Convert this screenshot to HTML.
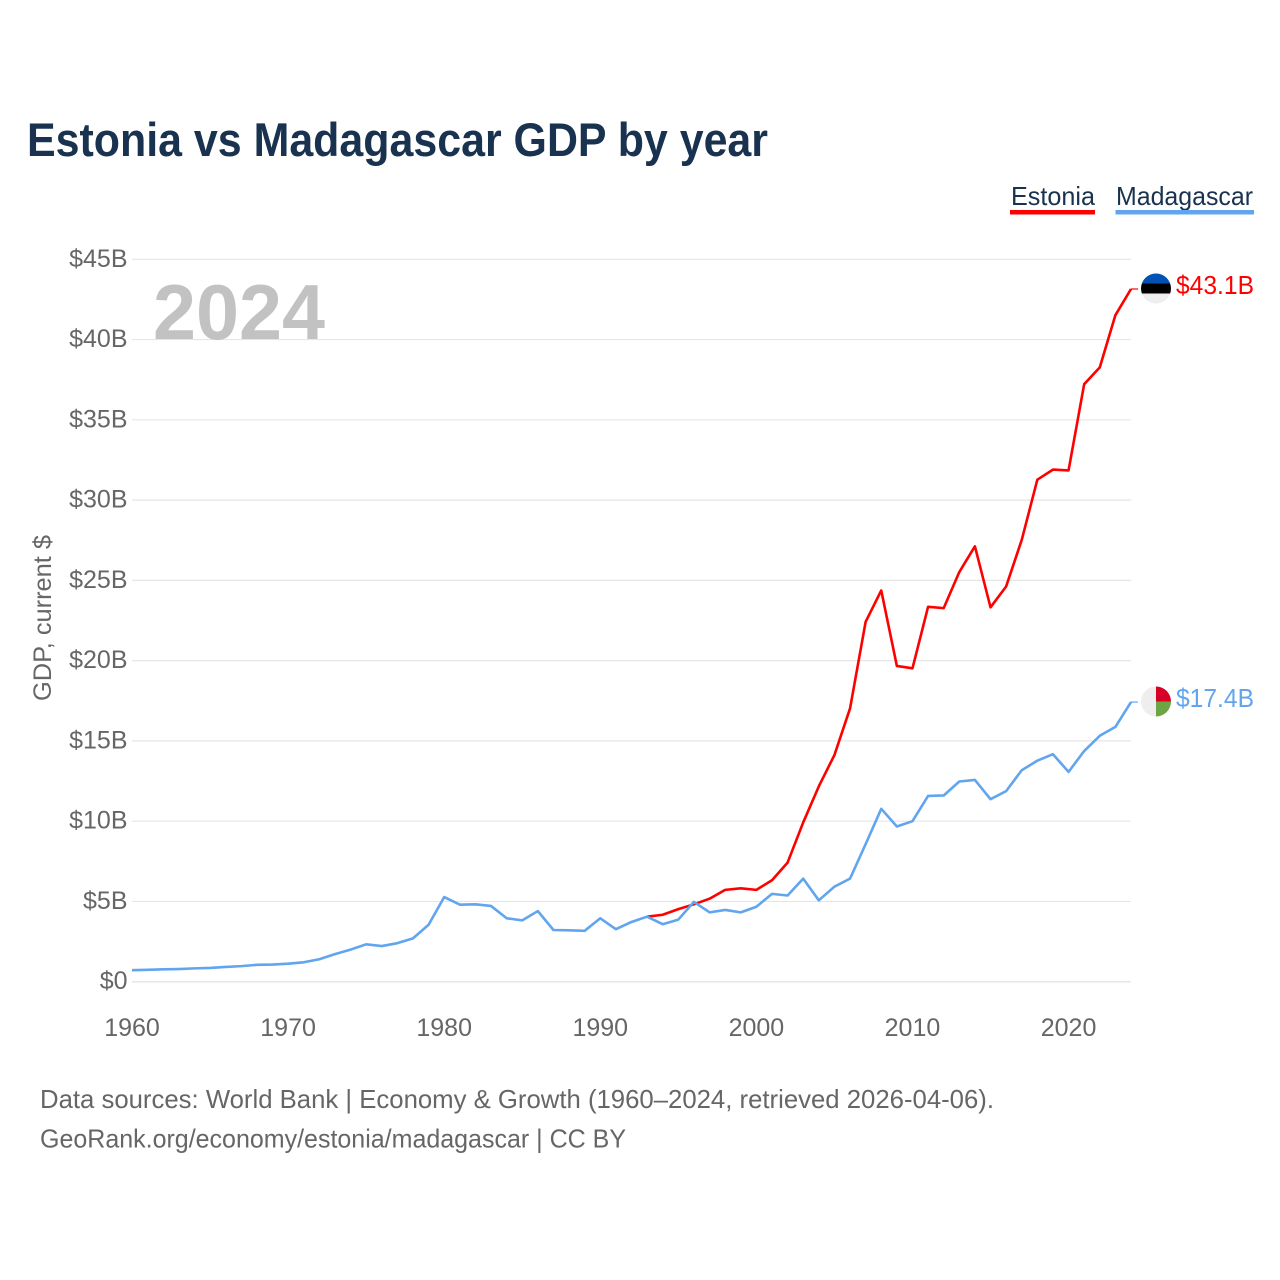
<!DOCTYPE html>
<html lang="en">
<head>
<meta charset="utf-8">
<title>Estonia vs Madagascar GDP by year</title>
<style>
html,body{margin:0;padding:0;background:#fff;}
svg{display:block;}
text{font-family:"Liberation Sans",sans-serif;}
</style>
</head>
<body>
<svg id="chart" xmlns="http://www.w3.org/2000/svg" width="1280" height="1280" viewBox="0 0 1280 1280">
  <rect x="0" y="0" width="1280" height="1280" fill="#ffffff"/>
  <text x="27" y="156" font-size="47" font-weight="700" fill="#18324f" textLength="741" lengthAdjust="spacingAndGlyphs">Estonia vs Madagascar GDP by year</text>

  <text x="1011" y="205" font-size="26" fill="#18324f" textLength="84" lengthAdjust="spacingAndGlyphs">Estonia</text>
  <rect x="1010" y="210" width="85" height="4.5" fill="#ff0000"/>
  <text x="1116" y="205" font-size="26" fill="#18324f" textLength="137" lengthAdjust="spacingAndGlyphs">Madagascar</text>
  <rect x="1115.5" y="210" width="138.5" height="4.5" fill="#60a5ee"/>

  <g id="grid"></g>
  <text x="153" y="339" font-size="78" font-weight="700" fill="#c2c2c2" textLength="172" lengthAdjust="spacingAndGlyphs">2024</text>
  <g id="y-ticks"></g>
  <g id="x-ticks"></g>
  <text transform="translate(51,618) rotate(-90)" text-anchor="middle" font-size="25" fill="#666666" textLength="166" lengthAdjust="spacingAndGlyphs">GDP, current $</text>

  <g id="series"></g>

  <g>
    <clipPath id="clip-ee"><circle cx="1156" cy="288.5" r="15"/></clipPath>
    <g clip-path="url(#clip-ee)">
      <rect x="1141" y="273.5" width="30" height="10" fill="#0052b4"/>
      <rect x="1141" y="283.5" width="30" height="10" fill="#000000"/>
      <rect x="1141" y="293.5" width="30" height="10" fill="#eeeeee"/>
    </g>
    <text x="1176" y="294" font-size="26" fill="#ff0000" textLength="78" lengthAdjust="spacingAndGlyphs">$43.1B</text>
  </g>
  <g>
    <clipPath id="clip-mg"><circle cx="1156" cy="701.5" r="15"/></clipPath>
    <g clip-path="url(#clip-mg)">
      <rect x="1141" y="686.5" width="15" height="30" fill="#eeeeee"/>
      <rect x="1156" y="686.5" width="15" height="15" fill="#d80027"/>
      <rect x="1156" y="701.5" width="15" height="15" fill="#6da544"/>
    </g>
    <text x="1176" y="707" font-size="26" fill="#60a5ee" textLength="78" lengthAdjust="spacingAndGlyphs">$17.4B</text>
  </g>

  <text x="40" y="1108" font-size="26" fill="#666666" textLength="954" lengthAdjust="spacingAndGlyphs">Data sources: World Bank | Economy &amp; Growth (1960–2024, retrieved 2026-04-06).</text>
  <text x="40" y="1147.5" font-size="26" fill="#666666" textLength="586" lengthAdjust="spacingAndGlyphs">GeoRank.org/economy/estonia/madagascar | CC BY</text>
</svg>
<script>
const yTickValues = [0, 5, 10, 15, 20, 25, 30, 35, 40, 45];
const yTickLabels = ["$0", "$5B", "$10B", "$15B", "$20B", "$25B", "$30B", "$35B", "$40B", "$45B"];
const xTickYears = [1960, 1970, 1980, 1990, 2000, 2010, 2020];
const madagascarStartYear = 1960;
const madagascarGdp = [0.72,0.74,0.77,0.79,0.83,0.86,0.92,0.97,1.05,1.07,1.12,1.21,1.40,1.72,2.00,2.33,2.22,2.40,2.70,3.55,5.27,4.80,4.82,4.72,3.95,3.82,4.40,3.22,3.20,3.17,3.95,3.27,3.72,4.05,3.58,3.87,4.97,4.32,4.47,4.32,4.67,5.47,5.37,6.42,5.07,5.92,6.42,8.57,10.77,9.67,10.00,11.57,11.60,12.47,12.57,11.37,11.87,13.17,13.77,14.17,13.07,14.37,15.32,15.87,17.42];
const estoniaStartYear = 1993;
const estoniaGdp = [4.05,4.17,4.52,4.82,5.17,5.72,5.82,5.72,6.32,7.42,9.92,12.17,14.12,17.02,22.42,24.37,19.67,19.52,23.35,23.27,25.52,27.12,23.32,24.62,27.52,31.27,31.90,31.85,37.22,38.27,41.52,43.15];

const NS = "http://www.w3.org/2000/svg";
function xScale(year) { return 132 + (year - 1960) * (1131 - 132) / 64; }
function yScale(value) { return 981.7 - value * (981.7 - 259.3) / 45; }

const grid = document.getElementById("grid");
const yTicks = document.getElementById("y-ticks");
yTickValues.forEach(function (v, i) {
  const line = document.createElementNS(NS, "line");
  
  
  line.setAttribute("x1", xScale(1960));
  line.setAttribute("x2", xScale(2024));
  line.setAttribute("y1", yScale(v));
  line.setAttribute("y2", yScale(v));
  line.setAttribute("stroke", "#e6e6e6");
  line.setAttribute("stroke-width", v === 0 ? "1.5" : "1.2");
  grid.appendChild(line);

  const label = document.createElementNS(NS, "text");
  
  
  label.setAttribute("x", 127.5);
  label.setAttribute("y", yScale(v) + 7.5);
  label.setAttribute("text-anchor", "end");
  label.setAttribute("font-size", "25");
  label.setAttribute("fill", "#666666");
  label.textContent = yTickLabels[i];
  yTicks.appendChild(label);
});

const xTicks = document.getElementById("x-ticks");
xTickYears.forEach(function (yr) {
  const label = document.createElementNS(NS, "text");
  
  
  label.setAttribute("x", xScale(yr));
  label.setAttribute("y", 1036);
  label.setAttribute("text-anchor", "middle");
  label.setAttribute("font-size", "25");
  label.setAttribute("fill", "#666666");
  label.textContent = String(yr);
  xTicks.appendChild(label);
});

function seriesPoints(startYear, values) {
  return values.map(function (v, i) {
    return xScale(startYear + i).toFixed(2) + "," + yScale(v).toFixed(2);
  });
}

const seriesGroup = document.getElementById("series");

const estoniaLine = document.createElementNS(NS, "polyline");


estoniaLine.setAttribute("fill", "none");
estoniaLine.setAttribute("stroke", "#ff0000");
estoniaLine.setAttribute("stroke-width", "2.6");
estoniaLine.setAttribute("stroke-linejoin", "round");
estoniaLine.setAttribute("points", seriesPoints(estoniaStartYear, estoniaGdp).join(" "));
seriesGroup.appendChild(estoniaLine);

const madagascarLine = document.createElementNS(NS, "polyline");


madagascarLine.setAttribute("fill", "none");
madagascarLine.setAttribute("stroke", "#60a5ee");
madagascarLine.setAttribute("stroke-width", "2.6");
madagascarLine.setAttribute("stroke-linejoin", "round");
madagascarLine.setAttribute("points", seriesPoints(madagascarStartYear, madagascarGdp).join(" "));
seriesGroup.appendChild(madagascarLine);

const estoniaConnector = document.createElementNS(NS, "line");


estoniaConnector.setAttribute("x1", xScale(2024));
estoniaConnector.setAttribute("x2", xScale(2024) + 7);
estoniaConnector.setAttribute("y1", yScale(estoniaGdp[estoniaGdp.length - 1]));
estoniaConnector.setAttribute("y2", yScale(estoniaGdp[estoniaGdp.length - 1]));
estoniaConnector.setAttribute("stroke", "#ff0000");
estoniaConnector.setAttribute("stroke-width", "1.2");
seriesGroup.appendChild(estoniaConnector);

const madagascarConnector = document.createElementNS(NS, "line");


madagascarConnector.setAttribute("x1", xScale(2024));
madagascarConnector.setAttribute("x2", xScale(2024) + 7);
madagascarConnector.setAttribute("y1", yScale(madagascarGdp[madagascarGdp.length - 1]));
madagascarConnector.setAttribute("y2", yScale(madagascarGdp[madagascarGdp.length - 1]));
madagascarConnector.setAttribute("stroke", "#60a5ee");
madagascarConnector.setAttribute("stroke-width", "1.2");
seriesGroup.appendChild(madagascarConnector);
</script>
</body>
</html>
